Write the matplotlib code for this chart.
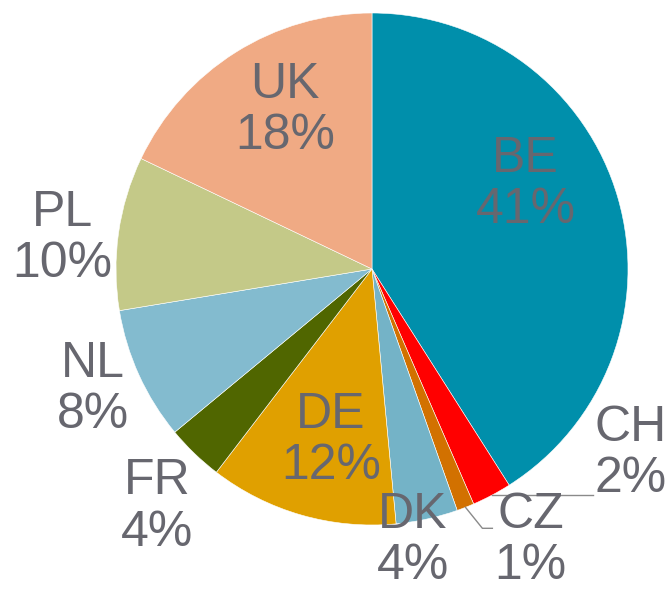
import numpy as np
import matplotlib.pyplot as plt

countries = ["BE", "CH", "CZ", "DK", "DE", "FR", "NL", "PL", "UK"]
shares = [41.0, 2.5, 1.1, 3.9, 11.9, 3.6, 8.4, 9.7, 17.9]
labels = ["41%", "2%", "1%", "4%", "12%", "4%", "8%", "10%", "18%"]
colors = ["#008fab", "#ff0000", "#d27100", "#74b3c7", "#e0a000",
          "#506600", "#83bbcf", "#c4c988", "#f0aa84"]

# label centres (data units, pie radius = 1)
label_xy = [(0.60, 0.33), (1.01, -0.72), (0.62, -1.06), (0.16, -1.06),
            (-0.16, -0.67), (-0.84, -0.93), (-1.09, -0.47), (-1.21, 0.12),
            (-0.34, 0.62)]

plt.rcParams["font.family"] = ["Liberation Sans", "DejaVu Sans"]

fig = plt.figure(figsize=(6.69, 5.89), dpi=100)
ax = fig.add_axes([0, 0, 1, 1])

wedges, _ = ax.pie(shares, colors=colors, startangle=90, counterclock=False,
                   radius=1, center=(0, 0), frame=True,
                   wedgeprops=dict(edgecolor="white", linewidth=0.4))
ax.set_xlim(-372 / 256, (669 - 372) / 256)
ax.set_ylim(-(589 - 269) / 256, 269 / 256)
ax.set_aspect("auto")
ax.axis("off")

for name, lab, (x, y) in zip(countries, labels, label_xy):
    ax.text(x, y, name + "\n" + lab, ha="center", va="center",
            fontsize=36, color="#67676f", linespacing=1.15)

# leader lines for the two small slices
grey = "#8a8a8a"
w = wedges[1]
a = np.deg2rad((w.theta1 + w.theta2) / 2)
ax.plot([np.cos(a), (593 - 372) / 256], [np.sin(a), np.sin(a)], color=grey, lw=1)
w = wedges[2]
a = np.deg2rad((w.theta1 + w.theta2) / 2)
x0, y0 = np.cos(a), np.sin(a)
ax.plot([x0, x0 + 0.066, x0 + 0.105], [y0, y0 - 0.082, y0 - 0.082], color=grey, lw=1)

fig.savefig("out.png", dpi=100)
